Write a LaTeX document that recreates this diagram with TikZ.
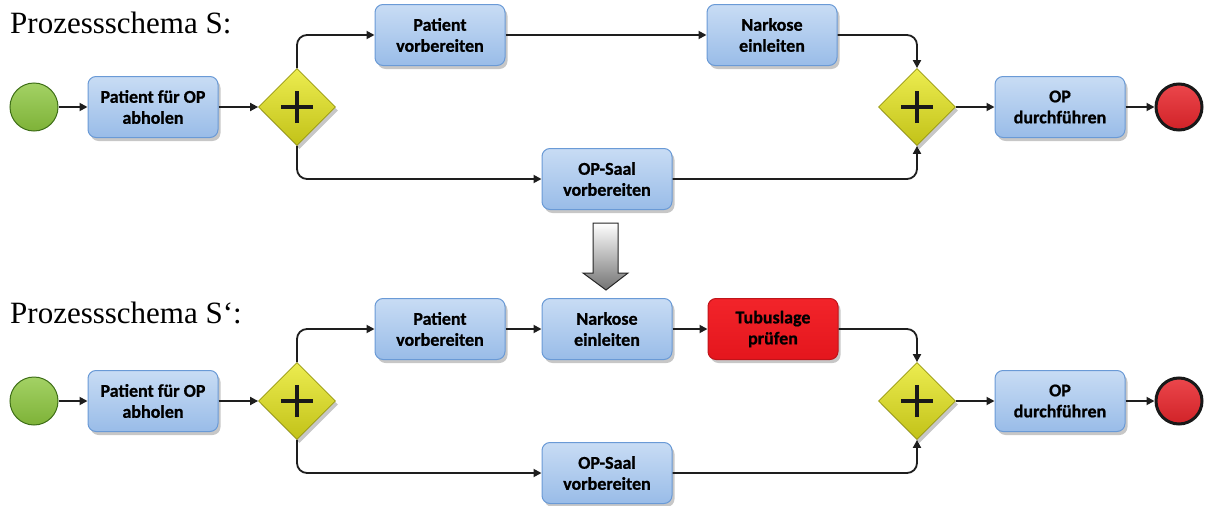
\documentclass[tikz,border=0pt]{standalone}
\usepackage{fontspec}
\setmainfont{Liberation Serif}
\newfontfamily\taskfont[BoldFeatures={FakeBold=0.8}]{Carlito}
\usetikzlibrary{shapes.geometric,shadows,arrows.meta}

\definecolor{tasktop}{HTML}{C8DCF4}
\definecolor{taskbot}{HTML}{99BCE8}
\definecolor{taskline}{HTML}{6A9AD6}
\definecolor{alerttop}{HTML}{F2242A}
\definecolor{alertbot}{HTML}{E4161D}
\definecolor{alertline}{HTML}{C0141A}
\definecolor{gwtop}{HTML}{ECEC50}
\definecolor{gwbot}{HTML}{C2C218}
\definecolor{gwline}{HTML}{97970E}
\definecolor{startfill}{HTML}{8CC63E}
\definecolor{startline}{HTML}{3F6F18}
\definecolor{endfill}{HTML}{E8262C}
\definecolor{flow}{HTML}{1E1E1E}

\tikzset{
  softshadow/.style={drop shadow={shadow xshift=2.5pt, shadow yshift=-3.5pt, fill=black!55, opacity=0.4}},
  taskbox/.style={rectangle, rounded corners=8pt, draw=taskline, line width=1pt,
    top color=tasktop, bottom color=taskbot, minimum width=130pt, minimum height=61pt,
    align=center, inner sep=0pt, text=black,
    font=\taskfont\bfseries\fontsize{18}{21}\selectfont, softshadow},
  alertbox/.style={taskbox, draw=alertline, top color=alerttop, bottom color=alertbot},
  andgate/.style={diamond, aspect=1, minimum size=77pt, inner sep=0pt, draw=gwline,
    line width=0.8pt, top color=gwtop, bottom color=gwbot, softshadow},
  startev/.style={circle, minimum size=48pt, inner sep=0pt, draw=startline, line width=1pt,
    top color=startfill!80!white, bottom color=startfill!90!black},
  endev/.style={circle, minimum size=46pt, inner sep=0pt, draw=black!90, line width=3pt,
    top color=endfill!85!white, bottom color=endfill!90!black},
  seqflow/.style={draw=flow, line width=1.8pt, -{Triangle[length=8pt,width=8pt]}},
  branch/.style={seqflow, rounded corners=10pt},
  heading/.style={anchor=base west, inner sep=0pt, font=\fontsize{31}{35}\selectfont}
}

% plus sign inside a parallel gateway
\newcommand{\plusmark}[1]{%
  \draw[line width=4pt, black!90] ([xshift=-16pt]#1.center) -- ([xshift=16pt]#1.center);
  \draw[line width=4pt, black!90] ([yshift=-16pt]#1.center) -- ([yshift=16pt]#1.center);
}

\begin{document}
\begin{tikzpicture}[x=1pt, y=-1pt]
\useasboundingbox (0,0) rectangle (1211,506);

% ---------- process schema S ----------
\node[heading] (titleA) at (10,34) {Prozessschema S:};

\node[startev] (sA) at (34,107) {};
\node[taskbox] (abA) at (153,107) {Patient für OP\\abholen};
\node[andgate] (gA) at (297,107) {};
\node[taskbox] (pvA) at (440,35) {Patient\\vorbereiten};
\node[taskbox] (nkA) at (772,35) {Narkose\\einleiten};
\node[taskbox] (osA) at (607,179) {OP-Saal\\vorbereiten};
\node[andgate] (jA) at (917,107) {};
\node[taskbox] (opA) at (1060,107) {OP\\durchführen};
\node[endev] (eA) at (1179,107) {};
\plusmark{gA}
\plusmark{jA}

\draw[seqflow] (sA) -- (abA);
\draw[seqflow] (abA) -- (gA.west);
\draw[branch] (gA.north) |- (pvA.west);
\draw[branch] (gA.south) |- (osA.west);
\draw[seqflow] (pvA) -- (nkA);
\draw[branch] (nkA.east) -| (jA.north);
\draw[branch] (osA.east) -| (jA.south);
\draw[seqflow] (jA.east) -- (opA);
\draw[seqflow] (opA) -- (eA);

% ---------- change arrow ----------
\path[draw=black!85, line width=1pt, top color=white, bottom color=black!55]
  (593,223) -- (618,223) -- (618,273) -- (628,273) -- (606,290)
  -- (583,273) -- (593,273) -- cycle;

% ---------- process schema S' ----------
\node[heading] (titleB) at (10,323) {Prozessschema S‘:};

\node[startev] (sB) at (34,401) {};
\node[taskbox] (abB) at (153,401) {Patient für OP\\abholen};
\node[andgate] (gB) at (297,401) {};
\node[taskbox] (pvB) at (440,329) {Patient\\vorbereiten};
\node[taskbox] (nkB) at (607,329) {Narkose\\einleiten};
\node[alertbox] (tbB) at (773,329) {Tubuslage\\prüfen};
\node[taskbox] (osB) at (607,473) {OP-Saal\\vorbereiten};
\node[andgate] (jB) at (917,401) {};
\node[taskbox] (opB) at (1060,401) {OP\\durchführen};
\node[endev] (eB) at (1179,401) {};
\plusmark{gB}
\plusmark{jB}

\draw[seqflow] (sB) -- (abB);
\draw[seqflow] (abB) -- (gB.west);
\draw[branch] (gB.north) |- (pvB.west);
\draw[branch] (gB.south) |- (osB.west);
\draw[seqflow] (pvB) -- (nkB);
\draw[seqflow] (nkB) -- (tbB);
\draw[branch] (tbB.east) -| (jB.north);
\draw[branch] (osB.east) -| (jB.south);
\draw[seqflow] (jB.east) -- (opB);
\draw[seqflow] (opB) -- (eB);
\end{tikzpicture}
\end{document}
